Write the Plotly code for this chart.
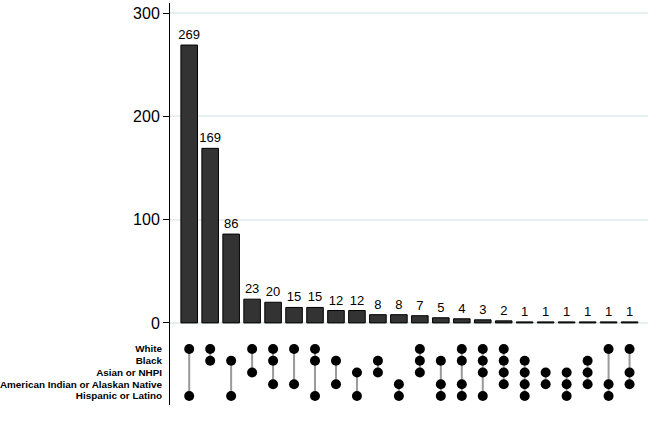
import plotly.graph_objects as go

sets = ["White", "Black", "Asian or NHPI", "American Indian or Alaskan Native", "Hispanic or Latino"]
counts = [269, 169, 86, 23, 20, 15, 15, 12, 12, 8, 8, 7, 5, 4, 3, 2, 1, 1, 1, 1, 1, 1]
combos = [
    ["White", "Hispanic or Latino"],
    ["White", "Black"],
    ["Black", "Hispanic or Latino"],
    ["White", "Asian or NHPI"],
    ["White", "Black", "American Indian or Alaskan Native"],
    ["White", "American Indian or Alaskan Native"],
    ["White", "Black", "Hispanic or Latino"],
    ["Black", "American Indian or Alaskan Native"],
    ["Asian or NHPI", "Hispanic or Latino"],
    ["Black", "Asian or NHPI"],
    ["American Indian or Alaskan Native", "Hispanic or Latino"],
    ["White", "Black", "Asian or NHPI"],
    ["Black", "American Indian or Alaskan Native", "Hispanic or Latino"],
    ["White", "Black", "American Indian or Alaskan Native", "Hispanic or Latino"],
    ["White", "Black", "Asian or NHPI", "Hispanic or Latino"],
    ["White", "Black", "Asian or NHPI", "American Indian or Alaskan Native"],
    ["Black", "Asian or NHPI", "American Indian or Alaskan Native", "Hispanic or Latino"],
    ["Asian or NHPI", "American Indian or Alaskan Native"],
    ["Asian or NHPI", "American Indian or Alaskan Native", "Hispanic or Latino"],
    ["Black", "Asian or NHPI", "American Indian or Alaskan Native"],
    ["White", "American Indian or Alaskan Native", "Hispanic or Latino"],
    ["White", "Asian or NHPI", "American Indian or Alaskan Native"],
]

row_pos = {s: len(sets) - 1 - i for i, s in enumerate(sets)}
xs = list(range(len(counts)))

fig = go.Figure()
fig.add_trace(go.Bar(
    x=xs, y=counts, text=[str(c) for c in counts], textposition="outside",
    textfont=dict(size=13, color="black"), cliponaxis=False, constraintext="none",
    marker=dict(color="#333333", line=dict(color="black", width=1)),
    xaxis="x", yaxis="y", showlegend=False,
))

for i, combo in enumerate(combos):
    ys = sorted(row_pos[s] for s in combo)
    fig.add_trace(go.Scatter(
        x=[i, i], y=[ys[0], ys[-1]], mode="lines",
        line=dict(color="#9a9a9a", width=2), xaxis="x2", yaxis="y2",
        showlegend=False, hoverinfo="skip",
    ))
    fig.add_trace(go.Scatter(
        x=[i] * len(ys), y=ys, mode="markers",
        marker=dict(color="black", size=10), xaxis="x2", yaxis="y2",
        showlegend=False,
    ))

fig.update_layout(
    width=665, height=427,
    margin=dict(l=170, r=17, t=3, b=22, autoexpand=False),
    plot_bgcolor="white", paper_bgcolor="white",
    font=dict(family="Liberation Sans, Arial, sans-serif", color="black"),
    bargap=0.21,
    xaxis=dict(domain=[0, 1], range=[-0.916, 21.88], visible=False),
    yaxis=dict(domain=[0.17, 1], range=[-13.3, 309.7], tickvals=[0, 100, 200, 300],
               showgrid=True, gridcolor="#e6eff1", gridwidth=1.5, zeroline=False,
               showline=True, linecolor="black", linewidth=1,
               ticks="outside", ticklen=6, tickcolor="black",
               tickfont=dict(size=16), automargin=False),
    xaxis2=dict(domain=[0, 1], range=[-0.916, 21.88], visible=False, anchor="y2"),
    yaxis2=dict(domain=[0, 0.17], range=[-0.766, 5.05], anchor="x2",
                tickvals=[row_pos[s] for s in sets],
                ticktext=["<b>" + s + "</b>" for s in sets],
                tickfont=dict(size=9.9), showgrid=False, zeroline=False, automargin=False,
                showline=True, linecolor="black", linewidth=1, ticks="", ticklabelstandoff=5),
)

fig.write_html("out.html")
